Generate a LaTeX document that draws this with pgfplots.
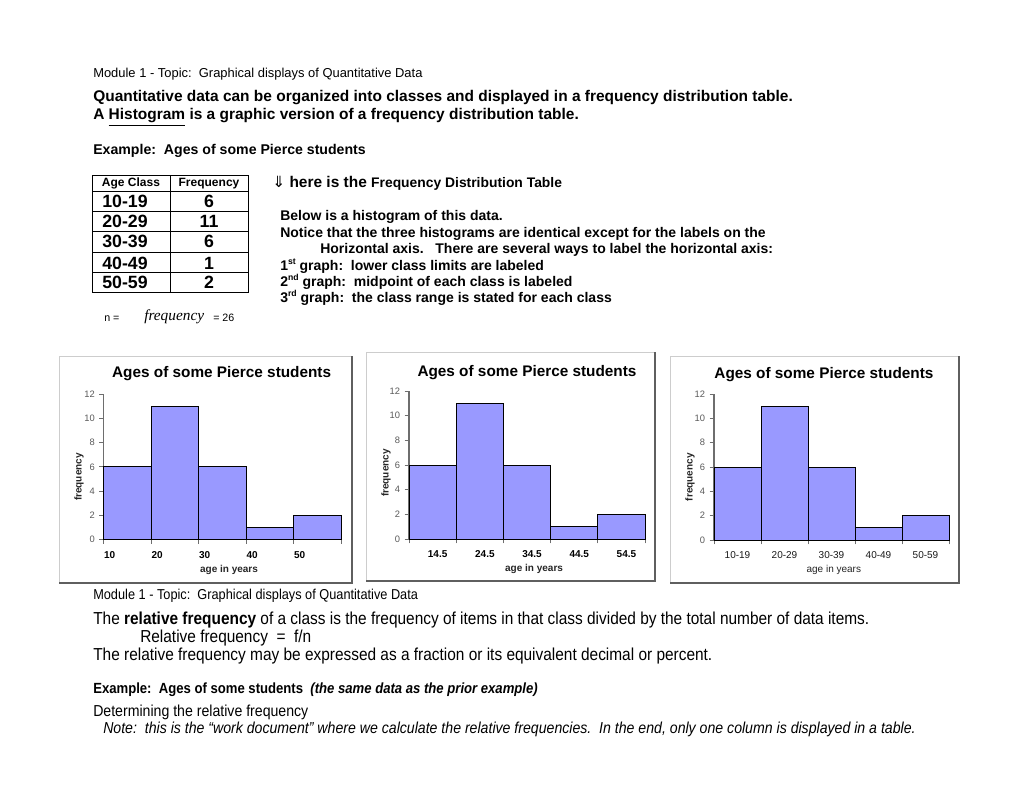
\documentclass[border=0pt]{standalone}
\usepackage{fontspec}
\setmainfont{Liberation Sans}
\newfontfamily\narrowfont[FakeStretch=0.89]{Liberation Sans}
\newfontfamily\symfont{DejaVu Sans}
\newfontfamily\timesfont{Liberation Serif}
\usepackage{pgfplots}
\pgfplotsset{compat=1.18}
\definecolor{barfill}{RGB}{153,153,255}
\definecolor{axisgray}{RGB}{110,110,110}
\definecolor{ticktext}{RGB}{90,90,90}
\definecolor{framelight}{RGB}{205,205,205}
\definecolor{framedark}{RGB}{95,95,95}
\newcommand{\sups}[1]{\raisebox{0.75ex}{\fontsize{6.5}{7}\selectfont #1}}

\pgfplotsset{
  histo/.style={
    scale only axis,
    axis lines=left,
    axis line style={draw=axisgray, line width=0.8pt, -},
    tick align=outside,
    xtick pos=bottom, ytick pos=left,
    major tick length=3.2pt,
    tick style={draw=axisgray, line width=0.7pt},
    xmin=10, xmax=60, ymin=0, ymax=12,
    ytick={0,2,...,12},
    yticklabel style={font=\fontsize{7}{8}\selectfont, text=ticktext},
    /pgf/number format/assume math mode=true,
    title={Ages of some Pierce students},
    title style={font=\fontsize{11.5}{13}\selectfont\bfseries, anchor=center},
    xlabel={age in years},
    xlabel style={font=\fontsize{7.5}{9}\selectfont\bfseries, anchor=center, text=black!85},
    ylabel={frequency},
    ylabel style={font=\fontsize{7.5}{9}\selectfont\bfseries, anchor=center, text=black!85},
    clip=false,
  },
  histbar/.style={ybar, bar width=10, bar shift=0pt, fill=barfill, draw=black, line width=0.75pt},
}

\begin{document}
\begin{tikzpicture}[x=0.75pt, y=-0.75pt]
\fill[white] (0,0) rectangle (1020,788);
\coordinate (c1) at (103.7,539.7);
\coordinate (c2) at (409,539);
\coordinate (c3) at (714,540);

% ---- top text ----
\node[anchor=base west, inner sep=0] at (93,77.5) {\fontsize{9.7}{11}\selectfont Module 1 - Topic:\ \ Graphical displays of Quantitative Data};
\node[anchor=base west, inner sep=0] at (93,102) {\fontsize{11.6}{13}\selectfont\bfseries Quantitative data can be organized into classes and displayed in a frequency distribution table.};
\node[anchor=base west, inner sep=0] at (93,120) {\fontsize{11.6}{13}\selectfont\bfseries A \underline{Histogram} is a graphic version of a frequency distribution table.};
\node[anchor=base west, inner sep=0] at (93,154.5) {\fontsize{10.6}{12}\selectfont\bfseries Example:\ \ Ages of some Pierce students};

% ---- frequency table ----
\draw[line width=0.75pt] (92,175) rectangle (248,292);
\draw[line width=0.75pt] (170,175) -- (170,292);
\foreach \yy in {191,211,231,252,272} \draw[line width=0.75pt] (92,\yy) -- (248,\yy);
\node[font=\fontsize{9}{10}\selectfont\bfseries] at (131,183.5) {Age Class};
\node[font=\fontsize{9}{10}\selectfont\bfseries] at (209,183.5) {Frequency};
\foreach \c/\f/\yy in {10-19/6/201.5, 20-29/11/221.5, 30-39/6/241.5, 40-49/1/263, 50-59/2/282.5}{
  \node[font=\fontsize{13.3}{15}\selectfont\bfseries] at (125,\yy) {\c};
  \node[font=\fontsize{13.3}{15}\selectfont\bfseries] at (209,\yy) {\f};
}
\node[anchor=base west, inner sep=0] at (104,321) {\fontsize{8}{9}\selectfont n =};
\node[anchor=base west, inner sep=0] at (144,320) {\fontsize{11.5}{13}\selectfont\timesfont\itshape frequency};
\node[anchor=base west, inner sep=0] at (213,321) {\fontsize{8}{9}\selectfont = 26};

% ---- explanation text ----
\node[anchor=base west, inner sep=0] at (272,187.5) {\fontsize{11.6}{13}\selectfont\bfseries{\symfont\mdseries ⇓} here is the {\fontsize{10.4}{12}\selectfont Frequency Distribution Table}};
\node[anchor=base west, inner sep=0] at (280,220) {\fontsize{10.5}{12}\selectfont\bfseries Below is a histogram of this data.};
\node[anchor=base west, inner sep=0] at (280,237) {\fontsize{10.5}{12}\selectfont\bfseries Notice that the three histograms are identical except for the labels on the};
\node[anchor=base west, inner sep=0] at (320,253) {\fontsize{10.5}{12}\selectfont\bfseries Horizontal axis.\ \ \ There are several ways to label the horizontal axis:};
\node[anchor=base west, inner sep=0] at (280,270) {\fontsize{10.5}{12}\selectfont\bfseries 1\sups{st} graph:\ \ lower class limits are labeled};
\node[anchor=base west, inner sep=0] at (280,286) {\fontsize{10.5}{12}\selectfont\bfseries 2\sups{nd} graph:\ \ midpoint of each class is labeled};
\node[anchor=base west, inner sep=0] at (280,302) {\fontsize{10.5}{12}\selectfont\bfseries 3\sups{rd} graph:\ \ the class range is stated for each class};

% ---- chart frames ----
\draw[framelight, line width=0.75pt] (59,583) -- (59,356) -- (352,356);
\draw[framedark, line width=0.9pt] (352,356) -- (352,583) -- (59,583);
\draw[framelight, line width=0.75pt] (366,581) -- (366,352) -- (655,352);
\draw[framedark, line width=0.9pt] (655,352) -- (655,581) -- (366,581);
\draw[framelight, line width=0.75pt] (670,583) -- (670,356) -- (959,356);
\draw[framedark, line width=0.9pt] (959,356) -- (959,583) -- (670,583);

% ---- chart 1: lower class limits ----
\begin{axis}[histo, at={(c1)}, anchor=south west,
  width=178pt, height=109.3pt,
  xtick={10,20,...,60}, xticklabels={10,20,30,40,50,},
  xticklabel style={font=\fontsize{7.5}{9}\selectfont\bfseries, xshift=4.5pt, yshift=-2pt},
  title style={at={(axis description cs:0.497,1.084)}},
  xlabel style={at={(axis description cs:0.528,-0.205)}},
  ylabel style={at={(axis description cs:-0.104,0.43)}},
]
\addplot[histbar] coordinates {(15,6) (25,11) (35,6) (45,1) (55,2)};
\end{axis}

% ---- chart 2: class midpoints ----
\begin{axis}[histo, at={(c2)}, anchor=south west,
  width=177pt, height=111pt,
  xtick={10,20,...,60}, x tick label as interval,
  xticklabels={14.5,24.5,34.5,44.5,54.5},
  xticklabel style={font=\fontsize{7.5}{9}\selectfont\bfseries, xshift=3.8pt, yshift=-2pt},
  title style={at={(axis description cs:0.5,1.07)}},
  xlabel style={at={(axis description cs:0.53,-0.2)}},
  ylabel style={at={(axis description cs:-0.097,0.446)}},
]
\addplot[histbar] coordinates {(15,6) (25,11) (35,6) (45,1) (55,2)};
\end{axis}

% ---- chart 3: class ranges ----
\begin{axis}[histo, at={(c3)}, anchor=south west,
  width=176.25pt, height=109.5pt,
  xtick={10,20,...,60}, x tick label as interval,
  xticklabels={10-19,20-29,30-39,40-49,50-59},
  xticklabel style={font=\fontsize{7.5}{9}\selectfont, text=black!90, yshift=-2pt},
  title style={at={(axis description cs:0.468,1.075)}},
  xlabel style={at={(axis description cs:0.51,-0.205)}, font=\fontsize{7.5}{9}\selectfont},
  ylabel style={at={(axis description cs:-0.102,0.43)}},
]
\addplot[histbar] coordinates {(15,6) (25,11) (35,6) (45,1) (55,2)};
\end{axis}

% ---- bottom text ----
\node[anchor=base west, inner sep=0] at (93,599) {\narrowfont\fontsize{10.75}{12}\selectfont Module 1 - Topic:\ \ Graphical displays of Quantitative Data};
\node[anchor=base west, inner sep=0] at (93,624) {\narrowfont\fontsize{13}{15}\selectfont The \textbf{relative frequency} of a class is the frequency of items in that class divided by the total number of data items.};
\node[anchor=base west, inner sep=0] at (140,642) {\narrowfont\fontsize{13}{15}\selectfont Relative frequency\ \ =\ \ f/n};
\node[anchor=base west, inner sep=0] at (93,660) {\narrowfont\fontsize{13}{15}\selectfont The relative frequency may be expressed as a fraction or its equivalent decimal or percent.};
\node[anchor=base west, inner sep=0] at (93,693) {\narrowfont\fontsize{11.05}{13}\selectfont\bfseries Example:\ \ Ages of some students\ \ \textit{(the same data as the prior example)}};
\node[anchor=base west, inner sep=0] at (93,716) {\narrowfont\fontsize{11.9}{14}\selectfont Determining the relative frequency};
\node[anchor=base west, inner sep=0] at (103,733) {\narrowfont\fontsize{11.9}{14}\selectfont\itshape Note:\ \ this is the “work document” where we calculate the relative frequencies.\ \ In the end, only one column is displayed in a table.};
\end{tikzpicture}
\end{document}
